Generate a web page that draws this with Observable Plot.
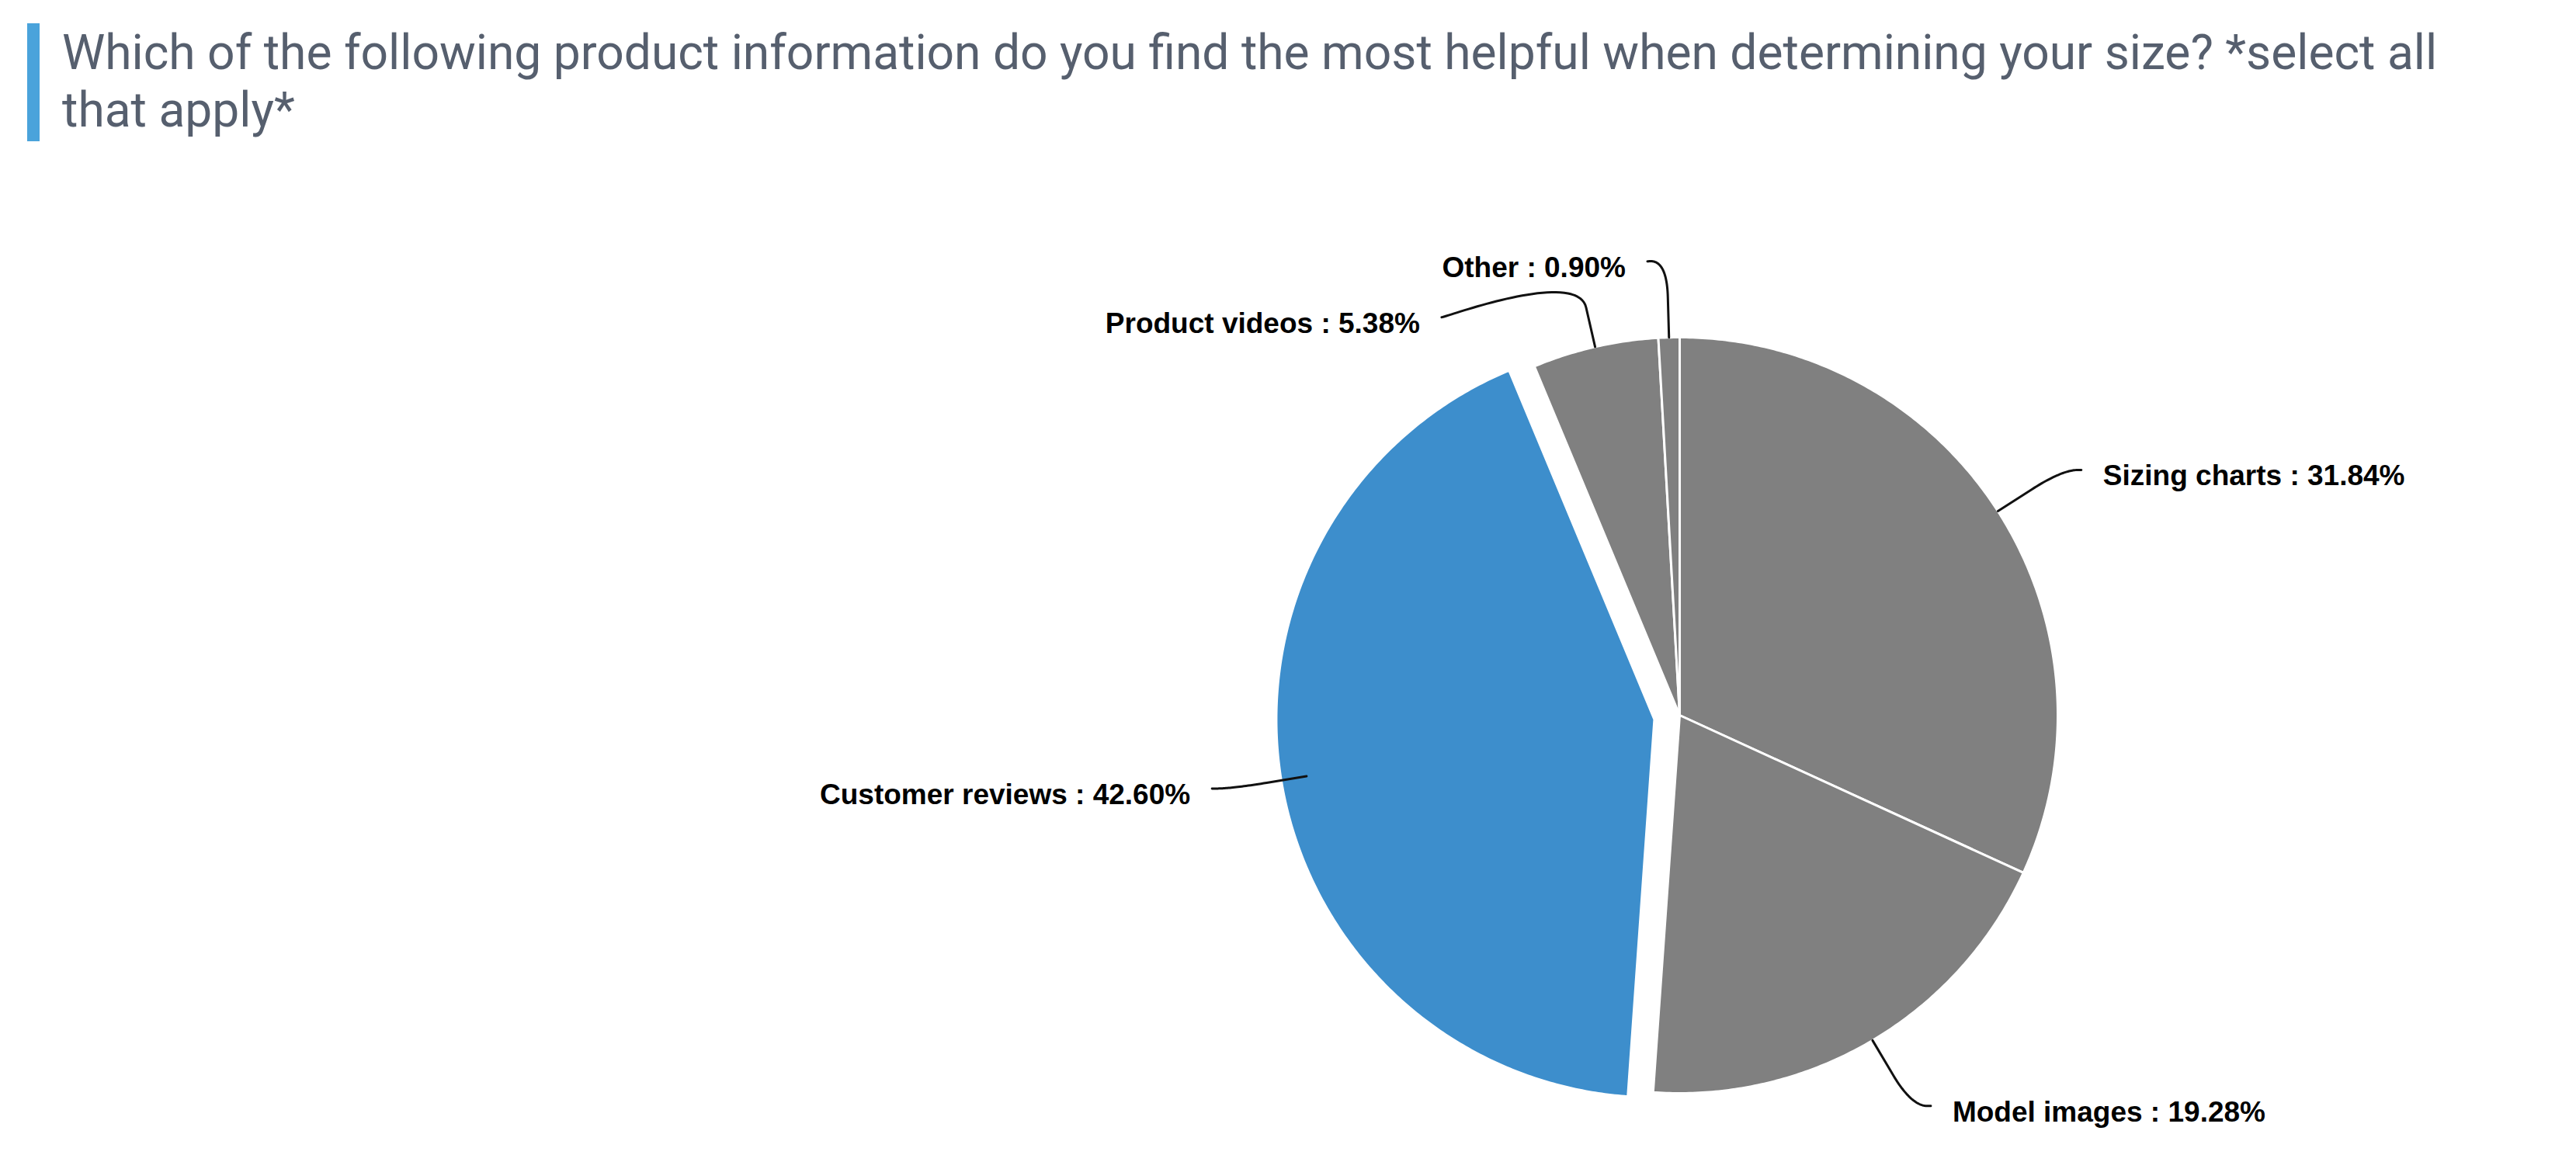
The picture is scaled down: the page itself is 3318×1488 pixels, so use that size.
<!DOCTYPE html>
<html>
<head>
<meta charset="utf-8">
<script src="https://cdn.jsdelivr.net/npm/d3@7"></script>
<script src="https://cdn.jsdelivr.net/npm/@observablehq/plot@0.6"></script>
<style>
  html, body { margin: 0; padding: 0; background: #ffffff; }
  #header { position: relative; width: 3318px; height: 200px; }
  #bar { position: absolute; left: 35px; top: 30px; width: 16px; height: 152px; background: #4aa3db; }
  .tline { position: absolute; left: 80px; white-space: nowrap; font-family: Roboto, "Noto Sans", sans-serif; font-weight: 400; color: #565f6e; }
  #chart { width: 3318px; height: 1288px; }
</style>
</head>
<body>
<div id="header"><div id="bar"></div></div>
<div id="chart"></div>
<script>
// ---------------- data ----------------
const titleLines = [
  "Which of the following product information do you find the most helpful when determining your size? *select all",
  "that apply*"
];
const categories = ["Sizing charts", "Model images", "Customer reviews", "Product videos", "Other"];
const shares = [31.84, 19.28, 42.60, 5.38, 0.90];
const highlight = "Customer reviews";

// ---------------- title ----------------
(function () {
  const header = document.getElementById("header");
  const ctx = document.createElement("canvas").getContext("2d");
  const fam = 'Roboto, "Noto Sans", sans-serif';
  ctx.font = `400 100px ${fam}`;
  const w = ctx.measureText(titleLines[0]).width;
  const F = 100 * 3060 / w;
  ctx.font = `400 ${F}px ${fam}`;
  const m = ctx.measureText(titleLines[0]);
  const asc = m.fontBoundingBoxAscent || 0.93 * F;
  const desc = m.fontBoundingBoxDescent || 0.24 * F;
  const LH = 74;
  const baseOff = (LH - (asc + desc)) / 2 + asc;
  const baselines = [89, 163];
  titleLines.forEach((t, i) => {
    const d = document.createElement("div");
    d.className = "tline";
    d.style.fontSize = F + "px";
    d.style.lineHeight = LH + "px";
    d.style.top = (baselines[i] - baseOff) + "px";
    d.textContent = t;
    header.appendChild(d);
  });
})();

// ---------------- layout ----------------
const W = 3318, H = 1288;
const cx = 2163, cy = 721, r = 487;
const explode = 33;
const labelR = r + 98, breakR = r + 52, pad = 25, textGap = 28, minGap = 72;
const gray = "#808080", blue = "#3d8ecc";

const total = d3.sum(shares);
let acc = 0;
const slices = categories.map((c, i) => {
  const a0 = acc / total * 2 * Math.PI;
  acc += shares[i];
  const a1 = acc / total * 2 * Math.PI;
  return {c, v: shares[i], a0, a1, mid: (a0 + a1) / 2};
});
const dir = a => [Math.sin(a), -Math.cos(a)];

// slice polygons
const polyPts = [];
slices.forEach(s => {
  const off = s.c === highlight ? explode : 0;
  const [mx, my] = dir(s.mid);
  const x0 = cx + mx * off, y0 = cy + my * off;
  polyPts.push({c: s.c, x: x0, y: y0});
  const n = Math.max(2, Math.ceil((s.a1 - s.a0) / (Math.PI / 360)));
  for (let k = 0; k <= n; k++) {
    const a = s.a0 + (s.a1 - s.a0) * k / n;
    const [dx, dy] = dir(a);
    polyPts.push({c: s.c, x: x0 + r * dx, y: y0 + r * dy});
  }
});

// labels
const labels = slices.map(s => {
  const side = s.mid < Math.PI ? 1 : -1;
  const [dx, dy] = dir(s.mid);
  return {
    c: s.c, v: s.v, side,
    y: cy + labelR * dy,
    P0: [cx + r * dx, cy + r * dy],
    B: [cx + breakR * dx, cy + breakR * dy]
  };
});
for (const side of [1, -1]) {
  const g = labels.filter(l => l.side === side).sort((a, b) => a.y - b.y);
  for (let i = 1; i < g.length; i++) {
    if (g[i].y - g[i - 1].y < minGap) g[i].y = g[i - 1].y + minGap;
  }
}
labels.forEach(l => {
  const dyy = Math.max(-labelR, Math.min(labelR, l.y - cy));
  l.x = cx + l.side * (Math.sqrt(labelR * labelR - dyy * dyy) + pad);
  l.text = `${l.c} : ${l.v.toFixed(2)}%`;
});

// connectors: cubic bezier from label anchor to break point, then straight to slice edge
const connPts = [];
labels.forEach(l => {
  const E = [l.x, l.y];
  const c1 = [l.x - l.side * 5, l.y];
  const c2 = [2 * l.B[0] - l.P0[0], 2 * l.B[1] - l.P0[1]];
  const B = l.B;
  const n = 40;
  for (let k = 0; k <= n; k++) {
    const t = k / n, u = 1 - t;
    const x = u*u*u*E[0] + 3*u*u*t*c1[0] + 3*u*t*t*c2[0] + t*t*t*B[0];
    const y = u*u*u*E[1] + 3*u*u*t*c1[1] + 3*u*t*t*c2[1] + t*t*t*B[1];
    connPts.push({c: l.c, x, y});
  }
  connPts.push({c: l.c, x: l.P0[0], y: l.P0[1]});
});

const labelFont = '"Liberation Sans", Arial, Helvetica, sans-serif';

const chart = Plot.plot({
  width: W,
  height: H,
  margin: 0,
  style: {background: "#ffffff", overflow: "visible"},
  x: {type: "linear", domain: [0, W], range: [0, W], axis: null},
  y: {type: "linear", domain: [0, H], range: [0, H], axis: null},
  marks: [
    Plot.line(polyPts.filter(d => d.c !== highlight), {
      x: "x", y: "y", z: "c", curve: "linear-closed",
      fill: gray, stroke: "white", strokeWidth: 3, strokeLinejoin: "round"
    }),
    Plot.line(polyPts.filter(d => d.c === highlight), {
      x: "x", y: "y", z: "c", curve: "linear-closed",
      fill: blue, stroke: "white", strokeWidth: 3, strokeLinejoin: "round"
    }),
    Plot.line(connPts, {
      x: "x", y: "y", z: "c", stroke: "#111111", strokeWidth: 3, fill: "none"
    }),
    Plot.text(labels.filter(l => l.side === 1), {
      x: d => d.x + textGap, y: "y", text: "text", textAnchor: "start", dy: 8,
      fontFamily: labelFont, fontWeight: "bold", fontSize: 37, fill: "#000000"
    }),
    Plot.text(labels.filter(l => l.side === -1), {
      x: d => d.x - textGap, y: "y", text: "text", textAnchor: "end", dy: 8,
      fontFamily: labelFont, fontWeight: "bold", fontSize: 37, fill: "#000000"
    })
  ]
});
document.getElementById("chart").appendChild(chart);
</script>
</body>
</html>
